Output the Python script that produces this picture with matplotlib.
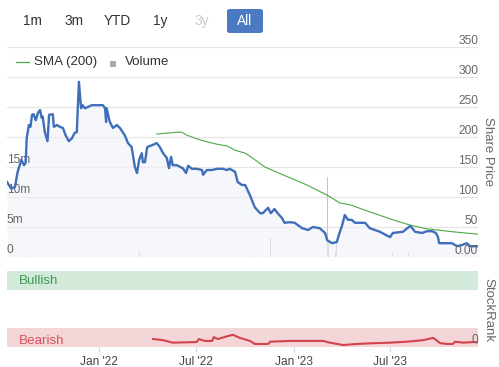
import matplotlib
matplotlib.use("Agg")
import matplotlib.pyplot as plt
import matplotlib.transforms as mtransforms
from matplotlib.patches import FancyBboxPatch, Rectangle
import pandas as pd

plt.rcParams['font.family'] = ['Liberation Sans', 'DejaVu Sans']

# ---------------- data ----------------
price_dates = [
    "2021-07-12", "2021-07-20", "2021-07-27", "2021-08-01", "2021-08-08", "2021-08-13",
    "2021-08-16", "2021-08-18", "2021-08-22", "2021-08-25", "2021-08-28", "2021-08-31",
    "2021-09-04", "2021-09-08", "2021-09-12", "2021-09-15", "2021-09-17", "2021-09-21",
    "2021-09-26", "2021-09-29", "2021-10-06", "2021-10-08", "2021-10-14", "2021-10-19",
    "2021-10-25", "2021-10-30", "2021-11-05", "2021-11-11", "2021-11-16", "2021-11-20",
    "2021-11-24", "2021-11-28", "2021-12-01", "2021-12-05", "2021-12-11", "2021-12-18",
    "2022-01-02", "2022-01-08", "2022-01-12", "2022-01-14", "2022-01-15", "2022-01-21",
    "2022-01-27", "2022-02-03", "2022-02-09", "2022-02-15", "2022-02-18", "2022-02-24",
    "2022-03-03", "2022-03-09", "2022-03-13", "2022-03-17", "2022-03-22", "2022-03-24",
    "2022-03-28", "2022-04-01", "2022-04-06", "2022-04-12", "2022-04-19", "2022-04-25",
    "2022-05-01", "2022-05-08", "2022-05-12", "2022-05-16", "2022-05-19", "2022-05-27",
    "2022-06-02", "2022-06-07", "2022-06-13", "2022-06-17", "2022-06-24", "2022-07-03",
    "2022-07-13", "2022-07-15", "2022-07-22", "2022-08-01", "2022-08-10", "2022-08-21",
    "2022-08-29", "2022-09-03", "2022-09-13", "2022-09-18", "2022-09-26", "2022-10-02",
    "2022-10-11", "2022-10-20", "2022-10-30", "2022-11-04", "2022-11-14", "2022-11-19",
    "2022-11-26", "2022-12-02", "2022-12-10", "2022-12-15", "2022-12-25", "2023-01-03",
    "2023-01-17", "2023-01-28", "2023-02-06", "2023-02-19", "2023-03-01", "2023-03-05",
    "2023-03-14", "2023-03-23", "2023-03-27", "2023-04-02", "2023-04-07", "2023-04-13",
    "2023-04-20", "2023-04-26", "2023-05-05", "2023-05-15", "2023-05-24", "2023-06-12",
    "2023-07-01", "2023-07-06", "2023-07-25", "2023-08-08", "2023-08-17", "2023-08-30",
    "2023-09-08", "2023-09-18", "2023-09-25", "2023-09-29", "2023-10-01", "2023-10-12",
    "2023-10-25", "2023-11-04", "2023-11-13", "2023-11-22", "2023-11-28", "2023-12-08",
    "2023-12-13",
]
price_values = [
    125, 114, 117, 142, 162, 153,
    157, 198, 220, 217, 237, 238,
    228, 240, 245, 232, 234, 208,
    193, 237, 238, 217, 220, 217,
    215, 203, 193, 198, 207, 208,
    292, 248, 253, 248, 250, 253,
    253, 253, 248, 225, 248, 225,
    215, 220, 215, 207, 203, 190,
    183, 150, 140, 162, 173, 158,
    158, 183, 185, 187, 190, 183,
    173, 165, 148, 167, 153, 153,
    150, 148, 140, 152, 147, 147,
    145, 137, 145, 145, 147, 147,
    145, 147, 142, 125, 120, 120,
    103, 83, 73, 73, 82, 73,
    80, 73, 65, 57, 58, 57,
    48, 45, 50, 48, 40, 28,
    23, 25, 37, 53, 70, 62,
    62, 57, 57, 57, 48, 42,
    33, 40, 42, 52, 42, 40,
    43, 43, 40, 33, 23, 23,
    23, 18, 20, 23, 18, 18,
    18,
]

sma_dates = [
    "2022-04-19", "2022-05-27", "2022-06-05", "2022-06-15", "2022-07-03", "2022-07-22",
    "2022-08-10", "2022-08-29", "2022-09-13", "2022-10-02", "2022-10-11", "2022-11-08",
    "2022-11-21", "2022-12-25", "2023-01-26", "2023-03-05", "2023-03-29", "2023-04-17",
    "2023-05-15", "2023-07-06", "2023-08-08", "2023-09-08", "2023-10-27", "2023-12-13",
]
sma_values = [
    205, 208, 208, 203, 197, 192,
    188, 185, 178, 173, 168, 150,
    145, 132, 120, 103, 90, 87,
    78, 62, 53, 47, 42, 38,
]

volume_dates = [
    "2021-07-14", "2021-08-20", "2021-11-09", "2022-02-05", "2022-03-09", "2022-03-18",
    "2022-03-24", "2022-04-01", "2022-06-28", "2022-08-27", "2022-10-16", "2022-10-30",
    "2022-11-14", "2022-11-18", "2022-11-27", "2022-12-10", "2022-12-31", "2023-01-13",
    "2023-01-28", "2023-02-01", "2023-02-25", "2023-03-05", "2023-03-07", "2023-03-10",
    "2023-03-16", "2023-03-20", "2023-03-23", "2023-03-25", "2023-03-29", "2023-04-02",
    "2023-04-11", "2023-04-26", "2023-07-05", "2023-07-25", "2023-08-04", "2023-09-27",
    "2023-10-03", "2023-11-19", "2023-11-28",
]
volume_values = [  # millions
    0.4, 0.4, 0.5, 0.5, 0.8, 0.9,
    0.6, 0.5, 0.4, 1.0, 0.4, 0.4,
    4.0, 3.2, 0.5, 0.5, 0.8, 1.1,
    1.5, 0.6, 0.7, 13.4, 2.5, 2.0,
    1.5, 1.0, 2.5, 1.7, 2.3, 1.5,
    0.8, 0.4, 0.7, 0.8, 0.6, 0.8,
    1.3, 0.5, 0.5,
]

rank_dates = [
    "2022-04-12", "2022-05-01", "2022-05-19", "2022-07-03", "2022-07-07", "2022-07-18",
    "2022-08-01", "2022-08-04", "2022-08-12", "2022-08-19", "2022-08-31", "2022-09-09",
    "2022-09-22", "2022-10-11", "2022-10-20", "2022-11-14", "2022-11-18", "2022-12-25",
    "2023-02-25", "2023-03-10", "2023-04-04", "2023-04-30", "2023-05-30", "2023-07-01",
    "2023-08-02", "2023-09-01", "2023-09-20", "2023-10-03", "2023-10-16", "2023-10-27",
    "2023-10-31", "2023-11-15", "2023-12-04", "2023-12-13",
]
rank_values = [
    10.5, 9, 5.7, 6.5, 10.5, 8,
    8, 13, 10.5, 12, 14.5, 16,
    12, 8, 4, 4, 7, 8,
    8, 5.7, 2.6, 4, 5, 5.7,
    7, 9, 12, 5, 4, 4,
    7, 5.7, 6.5, 6,
]

range_buttons = ["1m", "3m", "YTD", "1y", "3y", "All"]
price_ticks = [0, 50, 100, 150, 200, 250, 300, 350]
price_tick_labels = ["0.00", "50", "100", "150", "200", "250", "300", "350"]
volume_ticks = [0, 5, 10, 15]
volume_tick_labels = ["0", "5m", "10m", "15m"]
x_tick_dates = ["2022-01-01", "2022-07-01", "2023-01-01", "2023-07-01"]
x_tick_labels = ["Jan '22", "Jul '22", "Jan '23", "Jul '23"]

# ---------------- figure ----------------
W, H = 499, 367
fig = plt.figure(figsize=(W / 100, H / 100), dpi=100)
fig.patch.set_facecolor("white")

def frac(x0, y0, x1, y1):
    return [x0 / W, 1 - y1 / H, (x1 - x0) / W, (y1 - y0) / H]

xmin = pd.Timestamp("2021-07-12")
xmax = pd.Timestamp("2023-12-13")

pd_price = pd.to_datetime(price_dates)
pd_sma = pd.to_datetime(sma_dates)
pd_vol = pd.to_datetime(volume_dates)
pd_rank = pd.to_datetime(rank_dates)

grid_c = "#e6e6e6"
label_c = "#666666"

# main price axes
ax = fig.add_axes(frac(7, 47, 478, 257))
ax.set_xlim(xmin, xmax)
ax.set_ylim(0, 350)
for s in ax.spines.values():
    s.set_visible(False)
ax.set_xticks([])
ax.set_yticks([])
for v in price_ticks:
    ax.axhline(v, color=grid_c, lw=0.9, zorder=0)

# volume axes (same region, 0-35m)
axv = ax.twinx()
axv.set_ylim(0, 35)
axv.set_xlim(xmin, xmax)
for s in axv.spines.values():
    s.set_visible(False)
axv.set_yticks([])
axv.set_xticks([])
axv.bar(pd_vol, volume_values, width=1.2, color="#c4c5cc", zorder=1)

# price fill and lines on top
axp = ax.twinx()
axp.set_ylim(0, 350)
axp.set_xlim(xmin, xmax)
for s in axp.spines.values():
    s.set_visible(False)
axp.set_yticks([])
axp.set_xticks([])
axp.fill_between(pd_price, price_values, 0, color="#eef1f9", alpha=0.55, lw=0, zorder=1)
axp.plot(pd_sma, sma_values, color="#4aab45", lw=0.8, zorder=3)
axp.plot(pd_price, price_values, color="#3f6fba", lw=1.7, zorder=4,
         solid_joinstyle="round")

# right price labels
for v, lab in zip(price_ticks, price_tick_labels):
    axp.annotate(lab, xy=(1.0, v), xycoords=("axes fraction", "data"),
                 xytext=(0, 4.6), textcoords="offset points",
                 ha="right", va="center", fontsize=8.6, color=label_c, zorder=6)

# left volume labels (drawn on top layer, positioned by the volume scale)
vol_to_top = axv.transData + axp.transData.inverted()
for v, lab in zip(volume_ticks, volume_tick_labels):
    y_top = vol_to_top.transform((0, v))[1]
    axp.annotate(lab, xy=(0.0, y_top), xycoords=("axes fraction", "data"),
                 xytext=(0, 5.2), textcoords="offset points",
                 ha="left", va="center", fontsize=8.6, color=label_c, zorder=2)

fig.text(488 / W, 1 - 152 / H, "Share Price", rotation=270, ha="center", va="center",
         fontsize=9.5, color=label_c)

# legend
fig.add_artist(plt.Line2D([16 / W, 29 / W], [1 - 62 / H, 1 - 62 / H], color="#4aab45", lw=0.9))
fig.text(34 / W, 1 - 62 / H, "SMA (200)", ha="left", va="center", fontsize=9.6, color="#333333")
fig.add_artist(Rectangle((110 / W, 1 - 67 / H), 6 / W, 6 / H, transform=fig.transFigure,
                         color="#aaaaaf", lw=0))
fig.text(125 / W, 1 - 62 / H, "Volume", ha="left", va="center", fontsize=9.6, color="#333333")

# range buttons
btn_x = [32, 74, 117, 160, 202, 245]
for bx, lab in zip(btn_x, range_buttons):
    col = "#333333"
    if lab == "3y":
        col = "#cccccc"
    if lab == "All":
        fig.add_artist(FancyBboxPatch((227 / W, 1 - 33 / H), 36 / W, 24 / H,
                                      boxstyle="round,pad=0,rounding_size=0.006",
                                      transform=fig.transFigure, color="#4a7bc2", lw=0))
        col = "white"
    fig.text(bx / W, 1 - 21 / H, lab, ha="center", va="center", fontsize=9.8, color=col)

# StockRank axes
axr = fig.add_axes(frac(7, 271, 478, 347))
axr.set_xlim(xmin, xmax)
axr.set_ylim(0, 100)
for s in axr.spines.values():
    s.set_visible(False)
axr.axhspan(75, 100, color="#d3e9da", lw=0, zorder=0)
axr.axhspan(0, 25, color="#f5d6d8", lw=0, zorder=0)
axr.plot(pd_rank, rank_values, color="#d2434e", lw=1.5, zorder=3)
blend = mtransforms.blended_transform_factory(axr.transAxes, axr.transData)
axr.text(12 / 471, 87.5, "Bullish", transform=blend,
         ha="left", va="center", fontsize=9.6, color="#3c9a4c")
axr.text(12 / 471, 8.5, "Bearish", transform=blend,
         ha="left", va="center", fontsize=9.6, color="#d9525c")
axr.annotate("0", xy=(1.0, 0), xycoords=("axes fraction", "data"),
             xytext=(0, 5), textcoords="offset points",
             ha="right", va="center", fontsize=8.6, color=label_c, zorder=6)
axr.set_yticks([])
axr.set_xticks(pd.to_datetime(x_tick_dates))
axr.set_xticklabels(x_tick_labels)
axr.tick_params(axis="x", length=3.5, width=0.8, color="#ccd6eb", pad=3,
                labelsize=8.6, labelcolor="#444444")

fig.text(488 / W, 1 - 310 / H, "StockRank", rotation=270, ha="center", va="center",
         fontsize=9.5, color=label_c)

fig.savefig("out.png", dpi=100, facecolor="white")
